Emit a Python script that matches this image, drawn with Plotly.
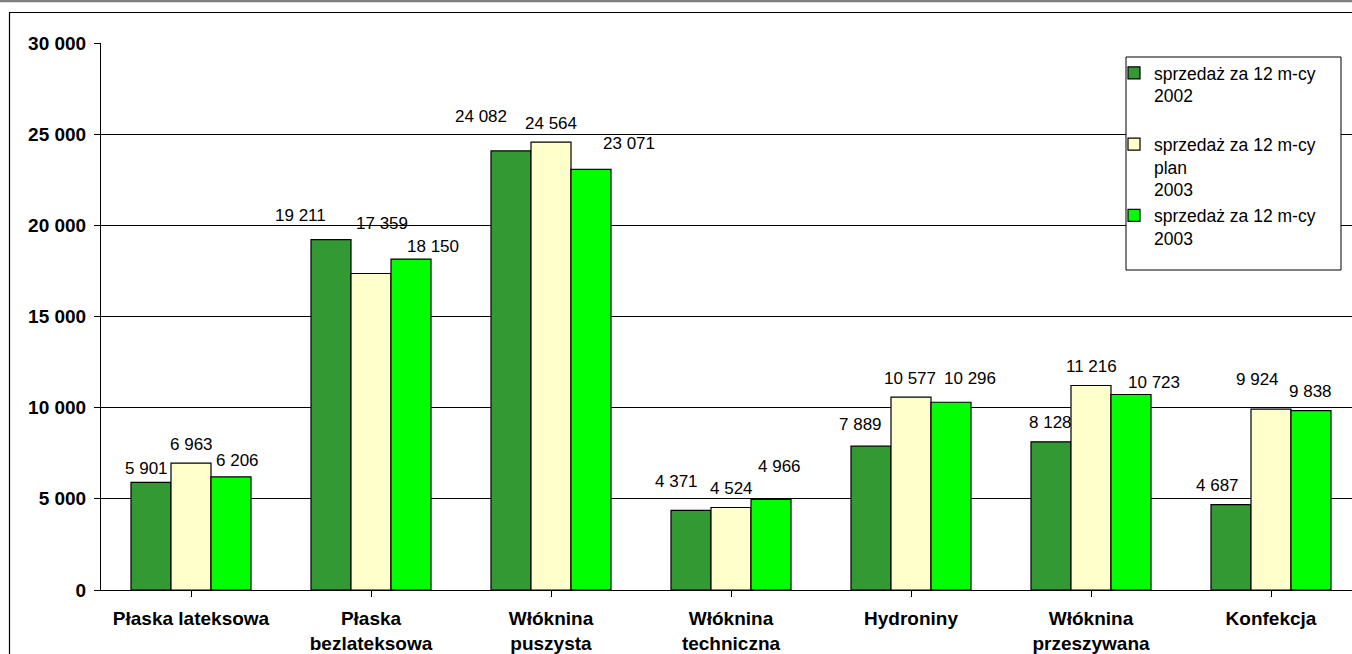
import plotly.graph_objects as go

CATEGORIES = ["Płaska lateksowa", "Płaska<br>bezlateksowa", "Włóknina<br>puszysta",
              "Włóknina<br>techniczna", "Hydroniny", "Włóknina<br>przeszywana", "Konfekcja"]
SERIES_NAMES = ["sprzedaż za 12 m-cy<br>2002<br>\u00a0",
                "sprzedaż za 12 m-cy<br>plan<br>2003",
                "sprzedaż za 12 m-cy<br>2003"]
SALES_2002 = [5901, 19211, 24082, 4371, 7889, 8128, 4687]
PLAN_2003 = [6963, 17359, 24564, 4524, 10577, 11216, 9924]
SALES_2003 = [6206, 18150, 23071, 4966, 10296, 10723, 9838]
Y_TICKS = [0, 5000, 10000, 15000, 20000, 25000, 30000]
Y_TICK_LABELS = ["0", "5 000", "10 000", "15 000", "20 000", "25 000", "30 000"]

COLORS = ["#339933", "#FFFFCC", "#00FF00"]
# label nudges (pixels) mimicking the hand-placed labels of the original
LABEL_DX = [[-5, -31, -30, -15, -11, -1, -14],
            [0, 11, 0, 0, -1, 0, -14],
            [6, 22, 38, 8, 19, 23, -1]]
LABEL_DY = [[14, 24, 34, 29, 22, 19, 19],
            [19, 50, 19, 19, 19, 19, 30],
            [16, 13, 26, 33, 24, 12, 19]]

FONT = "Liberation Sans, Arial, sans-serif"
W, H = 1352, 654
L, R, T, B = 101, 0, 43, 64
PW, PH = W - L - R, H - T - B

def px(x):
    return (x - L) / PW

def py(y):
    return (H - B - y) / PH

series = [SALES_2002, PLAN_2003, SALES_2003]
fig = go.Figure()
for name, vals, col in zip(SERIES_NAMES, series, COLORS):
    fig.add_trace(go.Bar(x=list(range(len(CATEGORIES))), y=vals, name=name,
                         marker=dict(color=col, line=dict(color="black", width=1.2))))

annotations = []
for i, vals in enumerate(series):
    for j, v in enumerate(vals):
        annotations.append(dict(
            x=j, y=v, xref="x", yref="y", text=f"{v:,}".replace(",", " "),
            showarrow=False, xanchor="center", yanchor="middle",
            xshift=(i - 1) * 40 + LABEL_DX[i][j], yshift=LABEL_DY[i][j],
            font=dict(family=FONT, size=17, color="black")))

shapes = [
    dict(type="line", xref="paper", yref="paper", x0=px(0), x1=px(W), y0=py(1), y1=py(1),
         line=dict(color="#7f7f7f", width=2.5)),
    dict(type="rect", xref="paper", yref="paper", x0=px(9.5), x1=px(W + 20),
         y0=py(H + 20), y1=py(12.5), line=dict(color="black", width=1.2)),
    dict(type="rect", xref="paper", yref="paper", x0=px(1126), x1=px(1341),
         y0=py(270), y1=py(57), line=dict(color="black", width=1), fillcolor="white",
         layer="above"),
]

fig.update_layout(
    width=W, height=H, margin=dict(l=L, r=R, t=T, b=B),
    paper_bgcolor="white", plot_bgcolor="white",
    barmode="group", bargap=1 / 3, bargroupgap=0,
    font=dict(family=FONT, color="black"),
    annotations=annotations, shapes=shapes,
    showlegend=True,
    legend=dict(x=px(1114), y=py(55), xanchor="left", yanchor="top",
                bgcolor="rgba(0,0,0,0)", borderwidth=0, valign="top",
                font=dict(family=FONT, size=17.5, color="black"),
                traceorder="normal", itemclick=False),
    xaxis=dict(range=[-0.5, 6.5 - 9 / 180], tickmode="array",
               tickvals=list(range(len(CATEGORIES))), ticktext=CATEGORIES,
               tickson="boundaries", ticks="outside", ticklen=6, tickcolor="black",
               showline=True, linecolor="black", linewidth=1, showgrid=False,
               ticklabelstandoff=5,
               tickfont=dict(family=FONT, size=19, color="black", weight="bold"),
               fixedrange=True),
    yaxis=dict(range=[0, 30000], tickmode="array", tickvals=Y_TICKS, ticktext=Y_TICK_LABELS,
               ticks="outside", ticklen=6, tickcolor="black",
               showline=True, linecolor="black", linewidth=1,
               showgrid=True, gridcolor="black", gridwidth=1, zeroline=False,
               ticklabelstandoff=4,
               tickfont=dict(family=FONT, size=19, color="black", weight="bold"),
               fixedrange=True),
)

fig.write_html("out.html", config={"displayModeBar": False})
